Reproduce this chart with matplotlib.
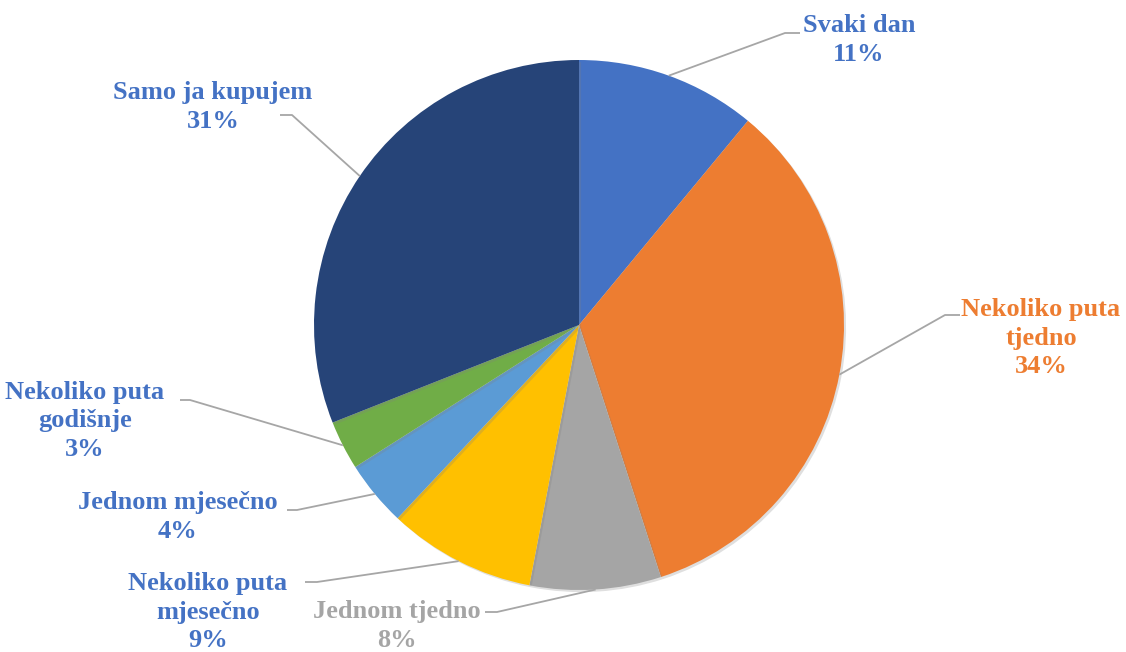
"""Pie chart: koliko često kupujete (reprodukcija)."""

import matplotlib
matplotlib.use("Agg")
import numpy as np
import matplotlib.pyplot as plt
import matplotlib.patheffects as pe

# --- podaci ---
kategorije = ["Svaki dan", "Nekoliko puta\ntjedno", "Jednom tjedno",
              "Nekoliko puta\nmjesečno", "Jednom mjesečno",
              "Nekoliko puta\ngodišnje", "Samo ja kupujem"]
postoci = [11, 34, 8, 9, 4, 3, 31]
boje = ["#4472C4", "#ED7D31", "#A5A5A5", "#FFC000", "#5B9BD5", "#70AD47", "#264478"]
boje_teksta = ["#4472C4", "#ED7D31", "#A5A5A5", "#4472C4", "#4472C4", "#4472C4", "#4472C4"]

# položaji natpisa (pikseli slike, y od vrha): centar teksta, lakat linije, kraj vodoravnog dijela
W, H = 1126, 652
centar_teksta = [(859, 40), (1041, 338), (397, 626), (208, 612), (178, 517), (85, 421), (213, 107)]
lakat = [(785, 33), (945, 315), (497, 612), (317, 582), (297, 510), (190, 400), (292, 115)]
kraj = [800, 960, 485, 305, 287, 180, 280]

CX, CY, R = 579, 325, 265

fig = plt.figure(figsize=(W / 100, H / 100), dpi=100)
ax = fig.add_axes([0, 0, 1, 1])

wedges, _ = ax.pie(postoci, colors=boje, startangle=90, counterclock=False,
                   center=(CX, H - CY), radius=R, frame=True,
                   wedgeprops=dict(linewidth=0))
for w in wedges:
    w.set_path_effects([pe.SimplePatchShadow(offset=(1.5, -1.5), shadow_rgbFace="gray", alpha=0.25),
                        pe.Normal()])
ax.set_xlim(0, W)
ax.set_ylim(0, H)
ax.set_aspect("equal")
ax.axis("off")

for w, kat, pct, boja, (tx, ty), (lx, ly), kx in zip(
        wedges, kategorije, postoci, boje_teksta, centar_teksta, lakat, kraj):
    kut = np.deg2rad((w.theta1 + w.theta2) / 2)
    px = CX + R * np.cos(kut)
    py = (H - CY) + R * np.sin(kut)
    ax.plot([px, lx, kx], [py, H - ly, H - ly], color="#A6A6A6", linewidth=1.3,
            solid_capstyle="butt", zorder=3)
    ax.text(tx, H - ty, f"{kat}\n{pct}%", ha="center", va="center",
            color=boja, fontsize=19, fontweight="bold", family="Liberation Serif",
            linespacing=1.33, zorder=4)

fig.savefig("out.png", dpi=100)
